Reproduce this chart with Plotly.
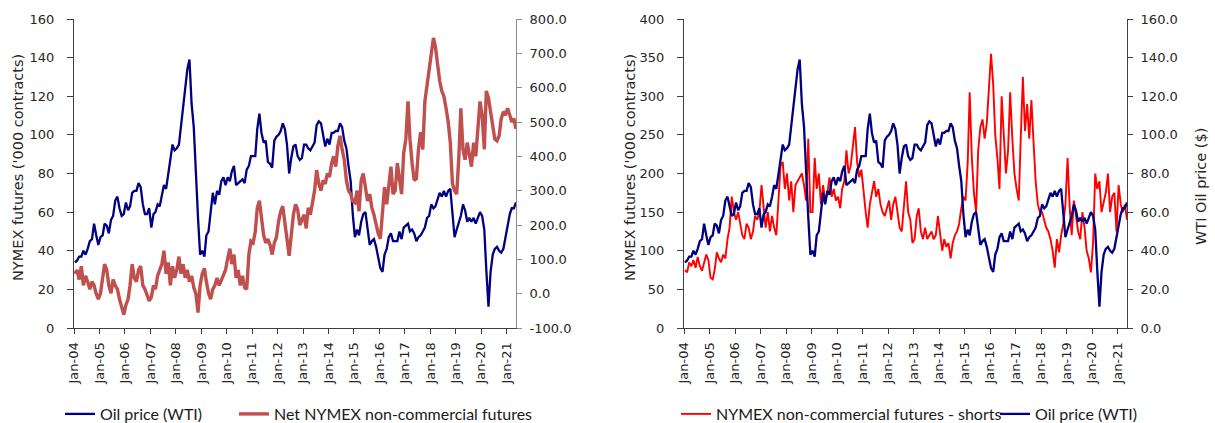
import pandas as pd
import plotly.graph_objects as go

# ---------------- data (monthly readings, Jan-2004 .. May-2021) ----------------
oil_wti = [
    34, 35, 37, 37, 40, 38, 41, 45, 46, 54, 48, 43,          # 2004
    47, 48, 54, 53, 49, 56, 58, 66, 68, 62, 58, 59,          # 2005
    65, 61, 63, 70, 71, 71, 75, 73, 64, 59, 59, 62,          # 2006
    52, 59, 60, 64, 63, 68, 74, 72, 80, 86, 95, 92,          # 2007
    93, 95, 105, 113, 125, 134, 139, 116, 104, 77, 57, 38,   # 2008
    40, 37, 48, 50, 59, 70, 64, 71, 69, 76, 78, 74,          # 2009
    78, 76, 81, 84, 74, 75, 76, 77, 75, 82, 84, 89,          # 2010
    89, 89, 103, 111, 101, 96, 97, 86, 85, 83, 97, 99,       # 2011
    100, 102, 106, 103, 95, 80, 88, 94, 95, 89, 87, 88,      # 2012
    95, 95, 93, 92, 94, 96, 105, 107, 106, 100, 94, 98,      # 2013
    95, 101, 101, 102, 102, 106, 104, 97, 93, 84, 76, 59,    # 2014
    47, 51, 48, 55, 59, 60, 51, 43, 45, 46, 42, 37,          # 2015
    31, 29, 38, 41, 47, 49, 45, 45, 45, 50, 46, 52,          # 2016
    53, 54, 50, 51, 49, 45, 47, 48, 50, 52, 57, 58,          # 2017
    64, 62, 63, 66, 70, 68, 71, 68, 71, 72, 57, 47,          # 2018
    51, 55, 58, 64, 61, 55, 57, 55, 57, 54, 57, 60,          # 2019
    58, 51, 30, 11, 29, 38, 41, 42, 40, 39, 41, 47,          # 2020
    52, 59, 62, 62, 65,                                      # 2021
]

net_nymex = [
    58, 69, 41, 80, 24, 52, 35, 13, 35, 24, -1, -16,         # 2004
    1, 41, 86, 69, 24, 1, 41, 24, 13, -16, -44, -61,         # 2005
    -33, -16, 24, 86, 46, 35, 69, 80, 24, 13, -4, -21,       # 2006
    -10, 24, 13, 52, 69, 86, 125, 58, 91, 24, 80, 46,        # 2007
    69, 108, 58, 86, 46, 69, 35, 52, 18, 1, -55, 24,         # 2008
    58, 74, 35, 1, -16, 13, 24, 46, 24, 41, 58, 69,          # 2009
    103, 131, 86, 114, 46, 69, 24, 52, 18, 13, 114, 153,     # 2010
    148, 181, 249, 271, 221, 170, 148, 159, 142, 114, 148, 164,  # 2011
    210, 240, 255, 200, 160, 110, 170, 230, 260, 245, 200, 215,  # 2012
    230, 190, 250, 230, 270, 300, 360, 320, 300, 330, 320, 350,  # 2013
    340, 380, 400, 370, 430, 460, 420, 390, 330, 300, 290, 270,  # 2014
    265, 300, 240, 330, 350, 310, 270, 290, 250, 230, 200, 175,  # 2015
    160, 230, 310, 260, 320, 370, 290, 300, 380, 330, 290, 410,  # 2016
    450, 560, 450, 380, 330, 335, 420, 470, 420, 560, 610, 660,  # 2017
    700, 745, 720, 660, 620, 590, 575, 540, 500, 440, 320, 300,  # 2018
    290, 400, 540, 420, 390, 440, 400, 370, 440, 400, 480, 560,  # 2019
    520, 420, 590, 570, 530, 490, 450, 445, 460, 510, 530, 520,  # 2020
    540, 520, 500, 510, 480,                                     # 2021
]

nymex_shorts = [
    75, 72, 85, 80, 88, 78, 92, 80, 74, 85, 95, 88,          # 2004
    65, 63, 75, 98, 90, 85, 95, 90, 115, 130, 170, 150,      # 2005
    140, 150, 135, 120, 115, 135, 130, 115, 125, 145, 140, 150,  # 2006
    185, 160, 130, 150, 125, 145, 130, 120, 165, 210, 215, 180,  # 2007
    200, 165, 190, 150, 185, 190, 195, 200, 185, 165, 245, 150,  # 2008
    150, 220, 180, 200, 160, 185, 165, 175, 195, 170, 180, 165,  # 2009
    170, 155, 180, 190, 230, 200, 210, 235, 260, 215, 195, 205,  # 2010
    175, 150, 130, 160, 175, 190, 170, 180, 160, 150, 145, 155,  # 2011
    165, 140, 160, 170, 150, 130, 125, 160, 190, 150, 140, 110,  # 2012
    115, 145, 155, 125, 115, 130, 115, 120, 125, 115, 120, 145,  # 2013
    120, 100, 115, 105, 110, 90, 110, 120, 125, 135, 155, 170,   # 2014
    165, 215, 305, 220, 175, 150, 230, 260, 270, 245, 265, 315,  # 2015
    355, 315, 250, 220, 180, 300, 250, 200, 230, 305, 245, 200,  # 2016
    180, 165, 245, 325, 255, 290, 245, 295, 240, 190, 160, 150,  # 2017
    150, 140, 130, 125, 115, 100, 78, 115, 98, 120, 135, 160,    # 2018
    220, 155, 120, 165, 145, 125, 115, 150, 130, 100, 90, 72,    # 2019
    110, 200, 180, 190, 150, 165, 175, 200, 150, 170, 175, 125,  # 2020
    185, 160, 150, 160, 140,                                     # 2021
]

year_labels = ["Jan-%02d" % (y % 100) for y in range(2004, 2022)]
left_ticks = [0, 20, 40, 60, 80, 100, 120, 140, 160]
net_ticks = [-100, 0, 100, 200, 300, 400, 500, 600, 700, 800]
shorts_ticks = [0, 50, 100, 150, 200, 250, 300, 350, 400]
wti_ticks = [0, 20, 40, 60, 80, 100, 120, 140, 160]

# ---------------- build ----------------
dates = pd.date_range("2004-01-01", periods=len(oil_wti), freq="MS") + pd.Timedelta(days=14)
year_dates = [pd.Timestamp(int("20" + s[-2:]), 1, 1) for s in year_labels]

NAVY = "#000080"
RED1 = "#C0504D"
RED2 = "#FF0000"
TXT = "#262626"
TICKFONT = dict(family="DejaVu Sans", size=13, color=TXT)
TITLEFONT = dict(family="DejaVu Sans", size=14.5, color=TXT)
LEGFONT = dict(family="Lato", size=16, color="#1a1a1a")

W, H = 1215, 423
def px_x(p):
    return p / W
def px_y(p):
    return 1 - p / H

ydom = [px_y(328), px_y(19)]
xdom1 = [px_x(74), px_x(516)]
xdom2 = [px_x(684), px_x(1127)]
xrange_ = ["2004-01-01", "2021-05-15"]

fig = go.Figure()
fig.add_trace(go.Scatter(x=dates, y=oil_wti, name="Oil price (WTI)", mode="lines",
                         line=dict(color=NAVY, width=2.3), xaxis="x", yaxis="y",
                         legend="legend"))
fig.add_trace(go.Scatter(x=dates, y=net_nymex, name="Net NYMEX non-commercial futures",
                         mode="lines", line=dict(color=RED1, width=3.4),
                         xaxis="x", yaxis="y2", legend="legend2"))
fig.add_trace(go.Scatter(x=dates, y=nymex_shorts, name="NYMEX non-commercial futures - shorts",
                         mode="lines", line=dict(color=RED2, width=1.9),
                         xaxis="x2", yaxis="y3", legend="legend3"))
fig.add_trace(go.Scatter(x=dates, y=oil_wti, name="Oil price (WTI)", mode="lines",
                         line=dict(color=NAVY, width=2.3), xaxis="x2", yaxis="y4",
                         legend="legend4"))

xcommon = dict(type="date", range=xrange_, tickvals=year_dates, ticktext=year_labels,
               tickangle=-90, ticks="outside", ticklen=5, tickcolor="#404040",
               showline=True, linecolor="#404040", linewidth=1, showgrid=False,
               zeroline=False, tickfont=TICKFONT, ticklabelstandoff=3)

def ycommon(ticks, fmt, color="#404040", ticklen=6):
    return dict(range=[ticks[0], ticks[-1]], tickvals=ticks,
                ticktext=[fmt % t for t in ticks], ticks="outside", ticklen=ticklen,
                tickcolor=color, showline=True, linecolor=color, linewidth=1,
                showgrid=False, zeroline=False, tickfont=TICKFONT, domain=ydom)

def leg(xpx):
    return dict(orientation="h", x=px_x(xpx), xanchor="left", y=px_y(414),
                yanchor="middle", font=LEGFONT, itemwidth=30,
                bgcolor="rgba(0,0,0,0)")

fig.update_layout(
    width=W, height=H,
    margin=dict(l=0, r=0, t=0, b=0, autoexpand=False),
    paper_bgcolor="white", plot_bgcolor="white",
    showlegend=True,
    xaxis=dict(domain=xdom1, anchor="y", **xcommon),
    yaxis=dict(anchor="x", side="left", ticklabelstandoff=10, **ycommon(left_ticks, "%d")),
    yaxis2=dict(anchor="x", overlaying="y", side="right", ticklabelstandoff=5,
                **ycommon(net_ticks, "%.1f", "#8c8c8c", 5)),
    xaxis2=dict(domain=xdom2, anchor="y3", **xcommon),
    yaxis3=dict(anchor="x2", side="left", ticklabelstandoff=10, **ycommon(shorts_ticks, "%d")),
    yaxis4=dict(anchor="x2", overlaying="y3", side="right", ticklabelstandoff=5,
                **ycommon(wti_ticks, "%.1f", "#404040", 5)),
    legend=leg(60),
    legend2=leg(234),
    legend3=leg(676),
    legend4=leg(995),
    annotations=[
        dict(text="NYMEX futures ('000 contracts)", xref="paper", yref="paper",
             x=px_x(18), y=px_y(168), textangle=-90, showarrow=False,
             xanchor="center", yanchor="middle", font=TITLEFONT),
        dict(text="NYMEX futures ('000 contracts)", xref="paper", yref="paper",
             x=px_x(630), y=px_y(168), textangle=-90, showarrow=False,
             xanchor="center", yanchor="middle", font=TITLEFONT),
        dict(text="WTI Oil price ($)", xref="paper", yref="paper",
             x=px_x(1201), y=px_y(187), textangle=-90, showarrow=False,
             xanchor="center", yanchor="middle", font=TITLEFONT),
    ],
)

fig.write_html("out.html", config={"displayModeBar": False},
               post_script="document.body.style.margin='0';document.body.style.overflow='hidden';")
